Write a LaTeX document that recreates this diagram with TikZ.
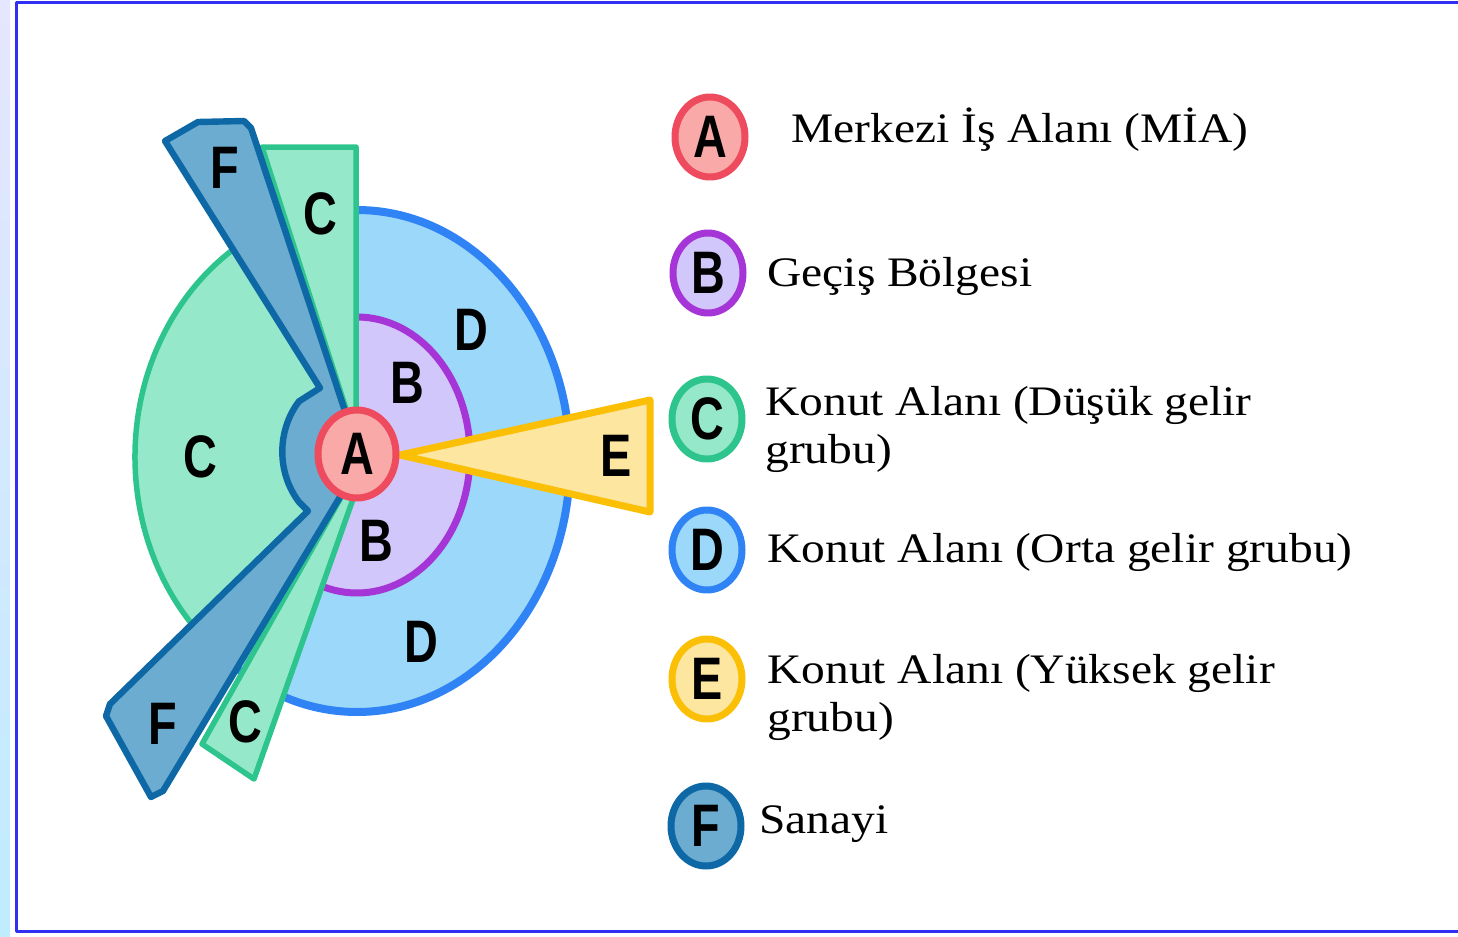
\documentclass[tikz,border=0pt]{standalone}
\usepackage{fontspec}
\setmainfont[FakeStretch=1.13]{Liberation Serif}
\newfontfamily\markfont[FakeStretch=0.78]{Liberation Sans}
\usetikzlibrary{shapes.geometric, positioning}

\definecolor{lineA}{HTML}{EE4B5E}
\definecolor{fillA}{HTML}{F9A9A8}
\definecolor{lineB}{HTML}{A535D6}
\definecolor{fillB}{HTML}{D2C7FA}
\definecolor{lineC}{HTML}{2EC48E}
\definecolor{fillC}{HTML}{95E8C9}
\definecolor{lineD}{HTML}{2F83F4}
\definecolor{fillD}{HTML}{9BD8FA}
\definecolor{lineE}{HTML}{FBBF05}
\definecolor{fillE}{HTML}{FDE6A0}
\definecolor{lineF}{HTML}{0D68A5}
\definecolor{fillF}{HTML}{6BACD0}
\definecolor{frameblue}{HTML}{3030F2}

\begin{document}
\begin{tikzpicture}[x=0.5pt,y=-0.5pt,line join=round]
\tikzstyle{letter}=[font=\markfont\bfseries\fontsize{30}{30}\selectfont, inner sep=0pt]
\tikzstyle{key}=[letter, ellipse, minimum width=35pt, minimum height=40pt, line width=3.5pt]
\tikzstyle{entry}=[font=\fontsize{21}{24}\selectfont, align=left, anchor=base west, inner sep=0pt]
\tikzstyle{zoneC}=[fill=fillC, draw=lineC, line width=2.75pt]
\tikzstyle{zoneF}=[fill=fillF, draw=lineF, line width=3.2pt]

\useasboundingbox (0,0) rectangle (1458,937);
\shade[top color=blue!10, bottom color=blue!30!cyan!25] (0,0) rectangle (10,937);
\draw[frameblue, line width=1.5pt] (1458,2) -- (16,2) -- (16,931) -- (1458,931);

\draw[fill=fillD, draw=lineD, line width=4pt] (357,461) ellipse [x radius=213, y radius=251];
\draw[fill=fillB, draw=lineB, line width=3.5pt] (357,455) ellipse [x radius=113, y radius=138];
\draw[zoneC] (357,457) -- +(125:222 and 250) arc [start angle=125, end angle=242, x radius=222, y radius=250] -- cycle;
\draw[zoneC] (262,147) -- (356,147) -- (356,440) -- cycle;
\draw[zoneC] (348,485) -- (202,744) -- (254,779) -- (358,485) -- cycle;
\draw[zoneF] (165,141) -- (198,122) -- (244,121) -- (251,128) -- (348,420) -- (350,455) -- (343,492)
  -- (163,791) -- (151,797) -- (106,716) -- (110,704) -- (308,511) -- (299,502)
  arc [start angle=141, end angle=219, x radius=75, y radius=80] -- (320,388) -- cycle;
\draw[fill=fillE, draw=lineE, line width=3.5pt] (400,455) -- (650,400) -- (650,512) -- cycle;
\node[key, draw=lineA, fill=fillA, minimum width=39pt, minimum height=44pt] (A) at (357,454) {A};

\node[letter] (F1) at (225,168) {F};
\node[letter] (C1) at (320,214) {C};
\node[letter] (D1) at (471,330) {D};
\node[letter] (B1) at (407,383) {B};
\node[letter] (C2) at (200,457) {C};
\node[letter] (E1) at (616,456) {E};
\node[letter] (B2) at (376,541) {B};
\node[letter] (D2) at (421,642) {D};
\node[letter] (F2) at (163,724) {F};
\node[letter] (C3) at (245,722) {C};

\node[key, draw=lineA, fill=fillA] (keyA) at (710,137) {A};
\node[key, draw=lineB, fill=fillB] (keyB) at (708,273) {B};
\node[key, draw=lineC, fill=fillC] (keyC) at (707,419) {C};
\node[key, draw=lineD, fill=fillD] (keyD) at (707,550) {D};
\node[key, draw=lineE, fill=fillE] (keyE) at (707,679) {E};
\node[key, draw=lineF, fill=fillF] (keyF) at (706,826) {F};

\node[entry] (txtA) at (791,142) {Merkezi İş Alanı (MİA)};
\node[entry] (txtB) at (767,286) {Geçiş Bölgesi};
\node[entry] (txtC) at (765,463) {Konut Alanı (Düşük gelir\\grubu)};
\node[entry] (txtD) at (767,562) {Konut Alanı (Orta gelir grubu)};
\node[entry] (txtE) at (767,731) {Konut Alanı (Yüksek gelir\\grubu)};
\node[entry] (txtF) at (759,833) {Sanayi};
\end{tikzpicture}
\end{document}
